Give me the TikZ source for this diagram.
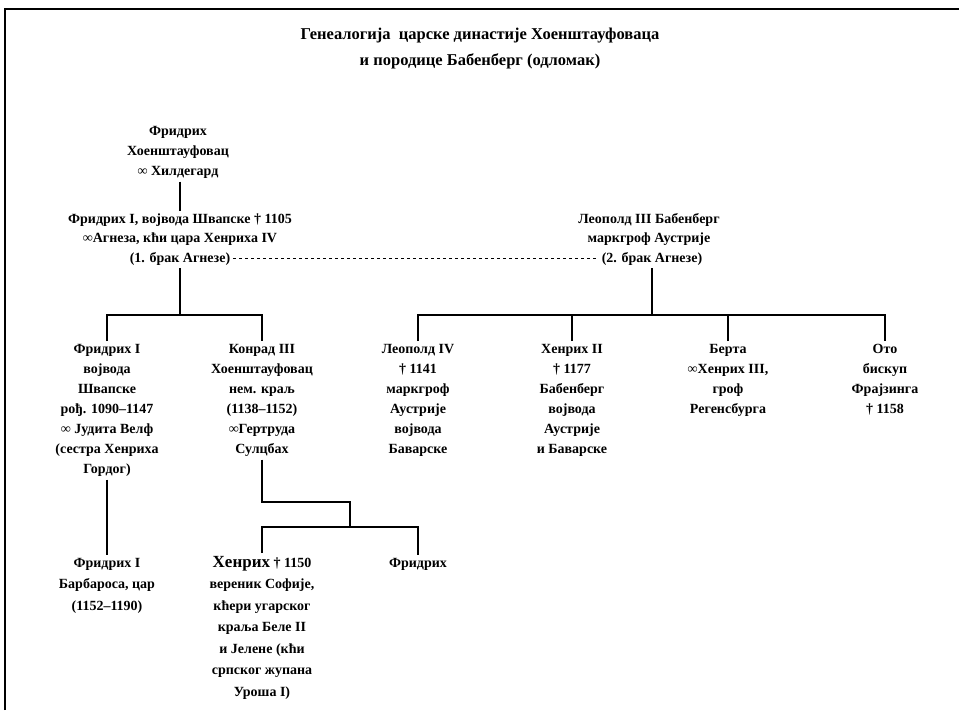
\documentclass[tikz,border=0pt]{standalone}
\usepackage{fontspec}
\setmainfont{Liberation Serif}
\tikzset{
	person/.style={align=center, anchor=north, inner sep=3pt, font=\bfseries\fontsize{14}{20}\selectfont},
	title/.style={align=center, anchor=north, inner sep=0pt, font=\bfseries\fontsize{16.5}{26}\selectfont},
	link/.style={line width=1.2pt},
	marriage/.style={line width=0.8pt, dash pattern=on 3pt off 3pt}
}
\begin{document}
\begin{tikzpicture}[x=1pt,y=-1pt]
	\useasboundingbox (0,0) rectangle (959,710);
	\draw[line width=2pt] (5,710) -- (5,9) -- (959,9);
	\node[title] (T) at (480,28) {Генеалогија~ царске династије Хоенштауфоваца\\ и породице Бабенберг (одломак)};
	
	\node[person] (F) at (178,123) {Фридрих\\ Хоенштауфовац\\ ∞ Хилдегард};
	\node[person, font=\bfseries\fontsize{14}{19}\selectfont] (FA) at (180,211) {Фридрих I, војвода Швапске † 1105\\ ∞Агнеза, кћи цара Хенриха IV};
	\node[person] (FA2) at (180,249) {(1. брак Агнезе)};
	\node[person, font=\bfseries\fontsize{14}{19}\selectfont] (L) at (649,210) {Леополд III Бабенберг\\ маркгроф Аустрије};
	\node[person] (L2) at (652,249) {(2. брак Агнезе)};
	
	\node[person] (F1) at (107,341) {Фридрих I\\ војвода\\ Швапске\\ рођ. 1090–1147\\ ∞ Јудита Велф\\ (сестра Хенриха\\ Гордог)};
	\node[person] (K) at (262,341) {Конрад III\\ Хоенштауфовац\\ нем. краљ\\ (1138–1152)\\ ∞Гертруда\\ Сулцбах};
	\node[person] (L4) at (418,341) {Леополд IV\\ † 1141\\ маркгроф\\ Аустрије\\ војвода\\ Баварске};
	\node[person] (H2) at (572,341) {Хенрих II\\ † 1177\\ Бабенберг\\ војвода\\ Аустрије\\ и Баварске};
	\node[person] (B) at (728,341) {Берта\\ ∞Хенрих III,\\ гроф\\ Регенсбурга};
	\node[person] (O) at (885,341) {Ото\\ бискуп\\ Фрајзинга\\ † 1158};
	
	\node[person, font=\bfseries\fontsize{14}{21.5}\selectfont] (FB) at (107,555) {Фридрих I\\ Барбароса, цар\\ (1152–1190)};
	\node[person, font=\bfseries\fontsize{14}{21.5}\selectfont] (H) at (262,553) {{\fontsize{17}{21.5}\selectfont Хенрих} † 1150\\ вереник Софије,\\ кћери угарског\\ краља Беле II\\ и Јелене (кћи\\ српског жупана\\ Уроша I)};
	\node[person] (Fr) at (418,555) {Фридрих};
	
	\draw[link] (F.south -| FA.north) -- (FA.north);
	\draw[marriage] (FA2.east) -- (L2.west);
	\coordinate (J1) at (180,315);
	\draw[link] (FA2.south) -- (J1);
	\draw[link] (F1.north) |- (J1) -| (K.north);
	\coordinate (J2) at (652,315);
	\draw[link] (L2.south) -- (J2);
	\draw[link] (L4.north) |- (J2) -| (O.north);
	\draw[link] (H2.north) -- (H2.north |- J2) (B.north) -- (B.north |- J2);
	\draw[link] (F1.south) -- (FB.north);
	\coordinate (K1) at (350,502);
	\coordinate (J3) at (350,527);
	\draw[link] (K.south) |- (K1) -- (J3);
	\draw[link] (H.north) |- (J3) -| (Fr.north);
\end{tikzpicture}
\end{document}
